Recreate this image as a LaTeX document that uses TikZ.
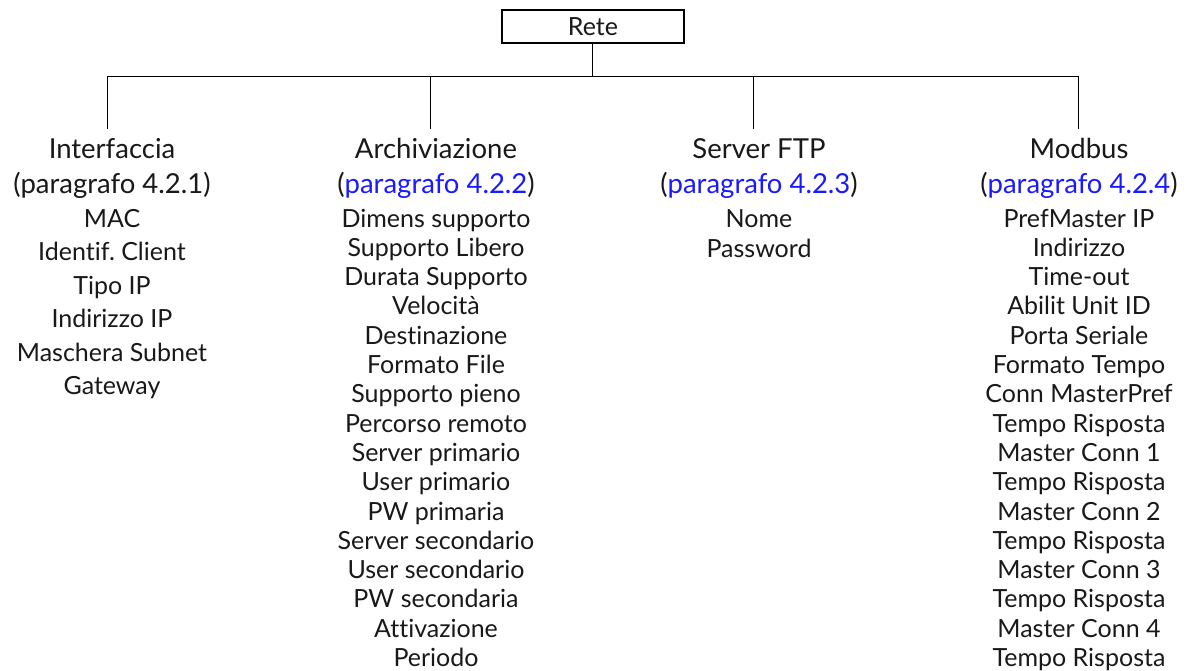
\documentclass[tikz,border=0pt]{standalone}
\usepackage{fontspec}
\setmainfont[Ligatures=NoCommon]{Lato}
\definecolor{linkblue}{RGB}{26,26,255}
\definecolor{txt}{RGB}{25,25,25}
\frenchspacing
\begin{document}
\begin{tikzpicture}[x=1pt,y=-1pt,
  head/.style={font=\fontsize{27.5}{30}\selectfont, text=txt, anchor=base, inner sep=0pt},
  item/.style={font=\fontsize{25}{28}\selectfont\frenchspacing, text=txt, anchor=base, inner sep=0pt},
  wire/.style={line width=1pt, black},
  rootbox/.style={draw, line width=2pt, minimum width=182pt, minimum height=33.5pt, inner sep=0pt,
    font=\fontsize{25}{28}\selectfont, text=txt}]
\useasboundingbox (0,0) rectangle (1187,670);
\fill[white] (0,0) rectangle (1187,670);

% root
\node[rootbox] (rete) at (593,26.25) {Rete};
\coordinate (bus) at (592,76);
\coordinate (busL) at (107,76);
\coordinate (busR) at (1078,76);
\coordinate (b1) at (107,76);  \coordinate (d1) at (107,129);
\coordinate (b2) at (430,76);  \coordinate (d2) at (430,129);
\coordinate (b3) at (753,76);  \coordinate (d3) at (753,129);
\coordinate (b4) at (1078,76); \coordinate (d4) at (1078,129);
\draw[wire] (rete.south -| bus) -- (bus);
\draw[wire] (busL) -- (busR);
\draw[wire] (b1) -- (d1);
\draw[wire] (b2) -- (d2);
\draw[wire] (b3) -- (d3);
\draw[wire] (b4) -- (d4);

% headers
\node[head] (interfaccia)  at (112,158) {Interfaccia};
\node[head] (interfacciaP) at (112,193) {(paragrafo 4.2.1)};
\node[head] (archiv)  at (436,158) {Archiviazione};
\node[head] (archivP) at (436,193) {(\textcolor{linkblue}{paragrafo 4.2.2})};
\node[head] (ftp)  at (759,158) {Server FTP};
\node[head] (ftpP) at (759,193) {(\textcolor{linkblue}{paragrafo 4.2.3})};
\node[head] (modbus)  at (1079,158) {Modbus};
\node[head] (modbusP) at (1079,193) {(\textcolor{linkblue}{paragrafo 4.2.4})};

% items
\foreach \t [count=\k] in {MAC,Identif.\ Client,Tipo IP,Indirizzo IP,Maschera Subnet,Gateway}
  \node[item] (if\k) at (112,{227+(\k-1)*33.5}) {\t};
\foreach \t [count=\k] in {Dimens supporto,Supporto Libero,Durata Supporto,Velocità,Destinazione,Formato File,Supporto pieno,Percorso remoto,Server primario,User primario,PW primaria,Server secondario,User secondario,PW secondaria,Attivazione,Periodo}
  \node[item] (ar\k) at (436,{227+(\k-1)*29.3}) {\t};
\foreach \t [count=\k] in {Nome,Password}
  \node[item] (ft\k) at (759,{227+(\k-1)*30.5}) {\t};
\foreach \t [count=\k] in {PrefMaster IP,Indirizzo,Time-out,Abilit Unit ID,Porta Seriale,Formato Tempo,Conn MasterPref,Tempo Risposta,Master Conn 1,Tempo Risposta,Master Conn 2,Tempo Risposta,Master Conn 3,Tempo Risposta,Master Conn 4,Tempo Risposta}
  \node[item] (mb\k) at (1079,{227+(\k-1)*29.3}) {\t};
\end{tikzpicture}
\end{document}
